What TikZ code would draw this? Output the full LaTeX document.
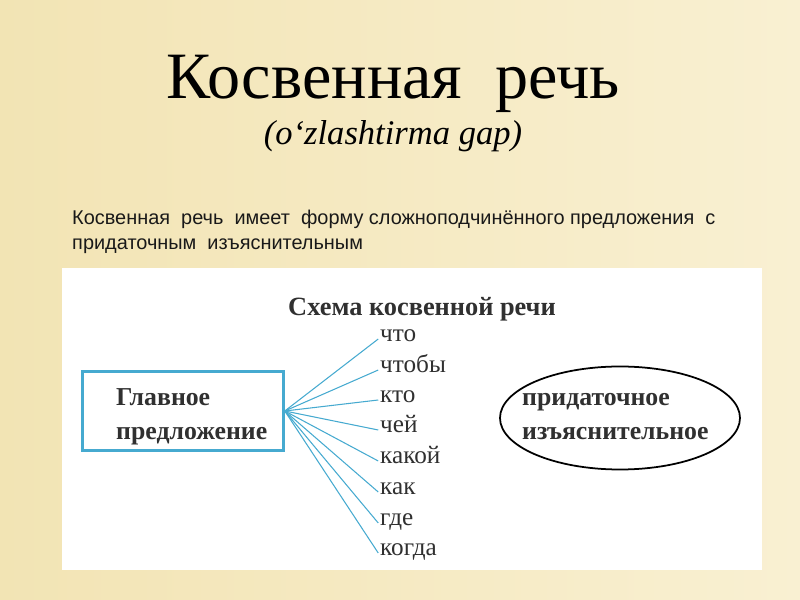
\documentclass[tikz,border=0pt]{standalone}
\usepackage{fontspec}
\setmainfont{Liberation Serif}
\newfontfamily\sansf{Liberation Sans}
\usetikzlibrary{shapes.geometric}
\definecolor{bgA}{RGB}{242,228,180}
\definecolor{bgB}{RGB}{249,240,210}
\definecolor{hub}{RGB}{70,170,208}
\definecolor{dgray}{RGB}{48,48,48}
\tikzset{
  word/.style={anchor=west, inner sep=0pt, text height=0.45em, text depth=0pt,
    font=\fontsize{21.5}{23}\selectfont, text=dgray},
  boldlbl/.style={anchor=base west, inner sep=0pt,
    font=\fontsize{22}{24}\selectfont\bfseries, text=dgray},
  link/.style={draw=hub, line width=0.9pt},
  bodytxt/.style={anchor=base west, inner sep=0pt, font=\sansf\fontsize{17}{19}\selectfont, text=black!90}
}
\begin{document}
\begin{tikzpicture}[x=0.03cm,y=-0.03cm]
\useasboundingbox (0,0) rectangle (800,600);
\shade[left color=bgA, right color=bgB] (0,0) rectangle (800,600);
\fill[white] (62,268) rectangle (762,570);
% title
\node[anchor=base, inner sep=0pt, font=\fontsize{56.5}{60}\selectfont] (title) at (393,99) {Косвенная\ \ речь};
\node[anchor=base, inner sep=0pt, font=\fontsize{29.5}{31}\selectfont\itshape] (sub) at (393,145) {(o‘zlashtirma gap)};
% body text
\node[bodytxt] (l1) at (72,225) {Косвенная\ \ речь\ \ имеет\ \ форму сложноподчинённого предложения\ \ с};
\node[bodytxt] (l2) at (72,250) {придаточным\ \ изъяснительным};
% schema
\node[anchor=base, inner sep=0pt, font=\fontsize{22.5}{24}\selectfont\bfseries, text=dgray] (schema) at (422,316) {Схема косвенной речи};
\node[draw=hub, line width=2.2pt, minimum width=6.03cm, minimum height=2.37cm, inner sep=0pt] (main) at (183,411) {};
\node[boldlbl] (g1) at (116,406) {Главное};
\node[boldlbl] (g2) at (116,440) {предложение};
\node[ellipse, draw=black, line width=1.5pt, minimum width=7.2cm, minimum height=3.09cm, inner sep=0pt] (ell) at (620,418) {};
\node[boldlbl] (p1) at (522,406) {придаточное};
\node[boldlbl] (p2) at (522,440) {изъяснительное};
% words
\node[word] (w1) at (380,339) {что};
\node[word] (w2) at (380,370) {чтобы};
\node[word] (w3) at (380,400) {кто};
\node[word] (w4) at (380,430) {чей};
\node[word] (w5) at (380,461) {какой};
\node[word] (w6) at (380,492) {как};
\node[word] (w7) at (380,523) {где};
\node[word] (w8) at (380,553) {когда};
\foreach \w in {w1,w2,w3,w4,w5,w6,w7,w8}
  \draw[link] (main.east) -- ([xshift=-1.5pt]\w.west);
\end{tikzpicture}
\end{document}
